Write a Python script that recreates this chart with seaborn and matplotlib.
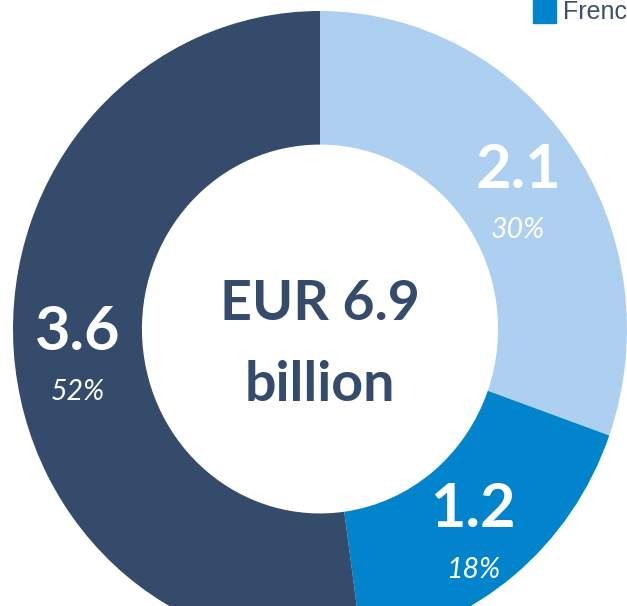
import matplotlib
matplotlib.use("Agg")
import numpy as np
import seaborn as sns
import matplotlib.pyplot as plt
from matplotlib.patches import Rectangle

# data
values = [2.1, 1.2, 3.6]
value_labels = ["2.1", "1.2", "3.6"]
pct_labels = ["30%", "18%", "52%"]
colors = ["#AED0F0", "#0284CD", "#344B6B"]
center_lines = ["EUR 6.9", "billion"]
legend_label = "Frenc"

sns.set_theme(style="white")
plt.rcParams["font.family"] = ["Lato", "DejaVu Sans"]

fig = plt.figure(figsize=(6.27, 6.06), dpi=100)
# donut centre at (320, 329) px from top, radius ~307 x 318 px
ax = fig.add_axes([13 / 627, (277 - 318) / 606, 614 / 627, 636 / 606])

wedges, _ = ax.pie(values, colors=colors, startangle=90, counterclock=False,
                   radius=1, wedgeprops=dict(width=0.42, linewidth=0))
ax.set_aspect("auto")
ax.set_xlim(-1, 1)
ax.set_ylim(-1, 1)
ax.axis("off")

# labels in the middle of each ring segment
for w, vl, pl in zip(wedges, value_labels, pct_labels):
    ang = np.deg2rad((w.theta1 + w.theta2) / 2)
    x, y = 0.79 * np.cos(ang), 0.79 * np.sin(ang)
    ax.annotate(vl, (x, y), xytext=(0, 10.5), textcoords="offset points",
                ha="center", va="center", color="white",
                fontsize=44, fontweight="bold")
    ax.annotate(pl, (x, y), xytext=(0, -33), textcoords="offset points",
                ha="center", va="center", color="white",
                fontsize=20.5, fontstyle="italic")

# centre text
ax.text(0, 0.08, center_lines[0], ha="center", va="center",
        color="#344B6B", fontsize=40, fontweight="bold")
ax.text(0, -0.175, center_lines[1], ha="center", va="center",
        color="#344B6B", fontsize=40, fontweight="bold")

# clipped legend in the top right corner
fig.patches.append(Rectangle((533 / 627, 583 / 606), 23 / 627, 23 / 606,
                             transform=fig.transFigure, color=colors[1]))
fig.text(563 / 627, 587 / 606, legend_label, ha="left", va="baseline",
         color="#3F4F6E", fontsize=18, family="Liberation Sans")

fig.savefig("out.png", dpi=100)
